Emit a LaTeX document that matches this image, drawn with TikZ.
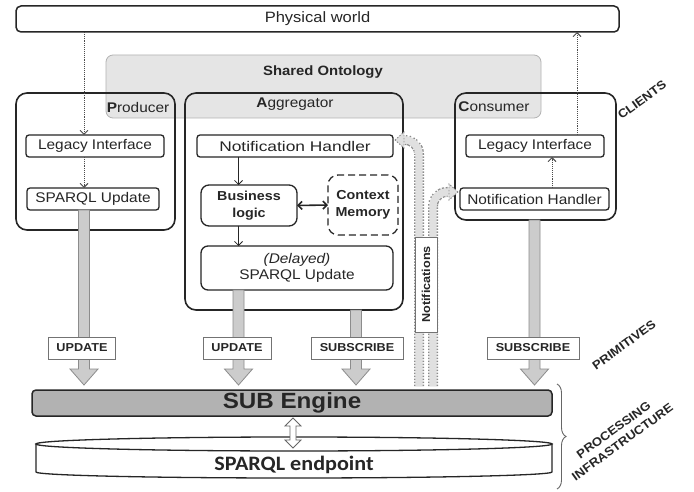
\documentclass[tikz,border=0pt]{standalone}
\usepackage{fontspec}
\setmainfont{Liberation Sans}[FakeStretch=1.1]
\newfontfamily\widefont{Liberation Sans}[FakeStretch=1.24]
\newfontfamily\calfont{Carlito}[FakeStretch=1.08]
\usetikzlibrary{arrows.meta,decorations.pathreplacing,calc}
\newcommand\myfs[1]{\fontsize{#1}{#1}\selectfont}
\newcommand\fatarrow[2]{%
  \draw[fat] let \p1=(#1), \p2=(#2) in
   (\x1-5.5pt,\y1) -- (\x1+5.5pt,\y1) -- (\x1+5.5pt,\y2+16pt) -- (\x1+14pt,\y2+16pt)
   -- (\x1,\y2) -- (\x1-14pt,\y2+16pt) -- (\x1-5.5pt,\y2+16pt) -- cycle;}
\begin{document}
\begin{tikzpicture}[x=1pt,y=-1pt,
  every node/.style={inner sep=0pt, outer sep=0pt, text=black!85, font=\myfs{14}},
  outerbox/.style={draw=black!85, line width=1.5pt, rounded corners=5pt, fill=white},
  client/.style={draw=black!85, line width=1.6pt, rounded corners=11pt},
  inbox/.style={draw=black!85, line width=1.3pt, rounded corners=3pt, fill=white},
  onto/.style={draw=black!30, line width=0.8pt, fill=black!10, rounded corners=7pt},
  dotarr/.style={densely dotted, line width=0.9pt, draw=black!70, -{Straight Barb[length=4pt,width=8pt]}},
  solarr/.style={line width=0.8pt, draw=black!85, -{Straight Barb[length=4pt,width=8pt]}},
  dblarr/.style={line width=1.6pt, draw=black!85, {Straight Barb[length=4pt,width=8pt]}-{Straight Barb[length=4pt,width=8pt]}},
  fat/.style={draw=black!45, line width=0.8pt, fill=black!20},
  prim/.style={draw=black!55, line width=0.8pt, fill=white, minimum height=22pt, font=\bfseries\myfs{11.5}},
  pipeout/.style={line width=10pt, draw=black!45, dash pattern=on 1.5pt off 1.5pt, rounded corners=14pt},
  pipein/.style={line width=7.4pt, draw=black!12, rounded corners=14pt},
  pipetip/.style={draw=black!45, line width=0.8pt, dash pattern=on 1.5pt off 1.5pt, fill=black!12},
  hollow/.style={draw=black!60, line width=0.8pt, fill=white},
  tag/.style={font=\bfseries\fontsize{12}{15}\selectfont, rotate=36, align=center}
]
\useasboundingbox (0,0) rectangle (694,492);
\fill[white] (0,0) rectangle (694,492);

% helper coordinates
\coordinate (pcol) at (84,0);
\coordinate (acol) at (238.5,0);
\coordinate (scol) at (356,0);
\coordinate (cc1) at (552,0);
\coordinate (cc2) at (577,0);
\coordinate (tipline) at (0,385);

% shared ontology
\node[onto, minimum width=435pt, minimum height=63pt] (onto) at (323.5,86.5) {};
\node[font=\bfseries\myfs{13.5}] (ontot) at (323,72) {Shared Ontology};

% physical world
\node[outerbox, minimum width=603pt, minimum height=26pt, font=\myfs{15}] (pw) at (317.5,19) {Physical world};

% clients
\node[client, minimum width=159pt, minimum height=137pt] (prod) at (95.5,161.5) {};
\node (prodl) at (138,107) {\textbf{P}roducer};
\node[client, minimum width=218pt, minimum height=217pt] (agg) at (294,201.5) {};
\node (aggl) at (295,104) {\textbf{A}ggregator};
\node[client, minimum width=161pt, minimum height=127pt] (cons) at (535.5,156.5) {};
\node (consl) at (494,107) {\textbf{C}onsumer};

% inner boxes
\node[inbox, minimum width=138pt, minimum height=22pt] (pli) at (95,146) {Legacy Interface};
\node[inbox, minimum width=132pt, minimum height=22pt] (psu) at (93,199) {SPARQL Update};
\node[inbox, minimum width=196pt, minimum height=22pt, font=\widefont\myfs{14}] (anh) at (295,146) {Notification Handler};
\node[inbox, rounded corners=8pt, minimum width=96pt, minimum height=41pt, align=center,
      font=\bfseries\fontsize{13}{17.5}\selectfont] (bl) at (249,205.5) {Business\\logic};
\node[inbox, dash pattern=on 7pt off 4pt, rounded corners=10pt, minimum width=70pt, minimum height=60pt, align=center,
      font=\bfseries\fontsize{13}{17}\selectfont] (cm) at (363,205) {Context\\Memory};
\node[inbox, rounded corners=7pt, minimum width=192pt, minimum height=44pt, align=center,
      font=\fontsize{14}{15.5}\selectfont] (del) at (297,268) {\textit{(Delayed)}\\SPARQL Update};
\node[inbox, minimum width=138pt, minimum height=22pt] (cli) at (535,146) {Legacy Interface};
\node[inbox, minimum width=149pt, minimum height=22pt] (cnh) at (534.5,199) {Notification Handler};

% small arrows
\draw[dotarr] (pcol |- pw.south) -- (pcol |- pli.north);
\draw[dotarr] (pcol |- pli.south) -- (pcol |- psu.north);
\draw[dotarr] (cc1 |- cnh.north) -- (cc1 |- cli.south);
\draw[dotarr] (cc2 |- cli.north) -- (cc2 |- pw.south);
\draw[solarr] (acol |- anh.south) -- (acol |- bl.north);
\draw[solarr] (acol |- bl.south) -- (acol |- del.north);
\draw[dblarr] (bl.east) -- (cm.west);

% SUB engine
\node[draw=black!85, line width=1.5pt, fill=black!30, rounded corners=4pt, minimum width=520pt, minimum height=26pt,
      font=\bfseries\myfs{22}] (sub) at (292,403) {SUB Engine};

% fat primitive arrows
\fatarrow{pcol |- psu.south}{pcol |- tipline}
\fatarrow{acol |- del.south}{acol |- tipline}
\fatarrow{scol |- agg.south}{scol |- tipline}
\fatarrow{cnh.south |- cons.south}{cnh.south |- tipline}
\node[prim, minimum width=67pt] (u1) at (82,348) {UPDATE};
\node[prim, minimum width=68pt] (u2) at (237,348) {UPDATE};
\node[prim, minimum width=92pt] (s1) at (357,348) {SUBSCRIBE};
\node[prim, minimum width=92pt] (s2) at (533,348) {SUBSCRIBE};

% notification pipes
\coordinate (n1) at (419,386);
\coordinate (n2) at (433,386);
\coordinate (t1) at (395,140);
\coordinate (t2) at (458,192);
\draw[pipeout] (n1) |- ([xshift=9pt]t1);
\draw[pipeout] (n2) |- ([xshift=-9pt]t2);
\draw[pipein] (n1) |- ([xshift=9pt]t1);
\draw[pipein] (n2) |- ([xshift=-9pt]t2);
\draw[pipetip] (t1) -- ++(9,-8) -- ++(0,16) -- cycle;
\draw[pipetip] (t2) -- ++(-9,-8) -- ++(0,16) -- cycle;
\node[prim, rotate=90, minimum width=95pt, minimum height=22pt] (notif) at (426,284.5) {Notifications};

% SPARQL endpoint cylinder
\draw[line width=1.3pt, draw=black!85, fill=white] (36,444) -- (36,472)
   arc[start angle=180, end angle=360, x radius=258pt, y radius=6pt] -- (552,444) -- cycle;
\draw[line width=1.3pt, draw=black!85, fill=white] (294,444) ellipse [x radius=258pt, y radius=7pt];
\node[font=\calfont\bfseries\myfs{20.5}] (ep) at (294,465) {SPARQL endpoint};

% hollow double arrow
\coordinate (da1) at (293,418);
\coordinate (da2) at (293,448);
\draw[hollow] (da1) -- ++(8,8) -- ++(-5,0) -- ++(0,14) -- ++(5,0) -- (da2)
   -- ++(-8,-8) -- ++(5,0) -- ++(0,-14) -- ++(-5,0) -- cycle;

% brace and tags
\draw[decorate, decoration={brace, amplitude=9pt}, line width=0.9pt, draw=black!60] (557,384) -- (557,489);
\node[tag] (clients) at (642,100) {CLIENTS};
\node[tag] (prims) at (624,345) {PRIMITIVES};
\node[tag] (proc) at (618,436) {PROCESSING\\INFRASTRUCTURE};
\end{tikzpicture}
\end{document}
